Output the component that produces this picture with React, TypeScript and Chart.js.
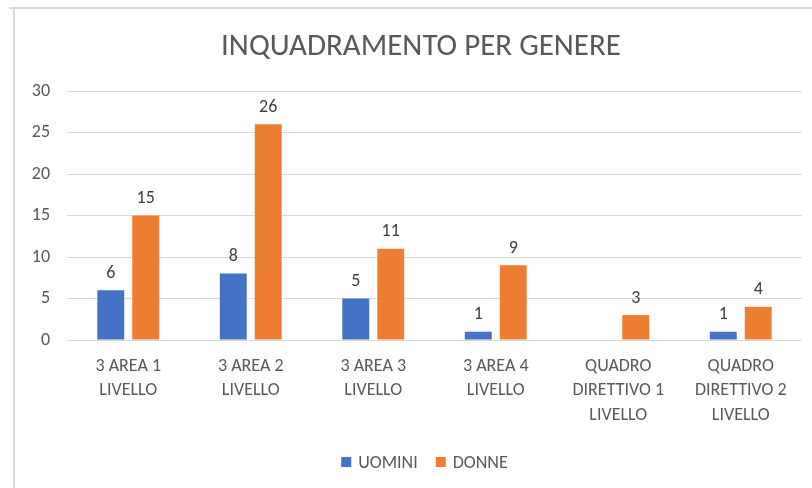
import React, { useEffect, useRef } from "react";
import { Chart, registerables } from "chart.js";

Chart.register(...registerables);

const TITLE = "INQUADRAMENTO PER GENERE";
const CATEGORIES: string[][] = [
  ["3 AREA 1", "LIVELLO"],
  ["3 AREA 2", "LIVELLO"],
  ["3 AREA 3", "LIVELLO"],
  ["3 AREA 4", "LIVELLO"],
  ["QUADRO", "DIRETTIVO 1", "LIVELLO"],
  ["QUADRO", "DIRETTIVO 2", "LIVELLO"],
];
const SERIES_NAMES = ["UOMINI", "DONNE"];
const UOMINI: (number | null)[] = [6, 8, 5, 1, null, 1];
const DONNE: (number | null)[] = [15, 26, 11, 9, 3, 4];
const COLORS = ["#4472C4", "#ED7D31"];
const Y_MIN = 0;
const Y_MAX = 30;
const Y_STEP = 5;

const FONT = "Carlito, Calibri, Lato, sans-serif";

const decorPlugin = {
  id: "decor",
  beforeDraw(chart: any) {
    const ctx = chart.ctx;
    ctx.save();
    ctx.fillStyle = "#ffffff";
    ctx.fillRect(0, 0, chart.width, chart.height);
    ctx.strokeStyle = "#d9d9d9";
    ctx.lineWidth = 2;
    ctx.beginPath();
    ctx.moveTo(9, 8);
    ctx.lineTo(chart.width, 8);
    ctx.moveTo(14, 7);
    ctx.lineTo(14, chart.height);
    ctx.stroke();
    ctx.restore();
  },
  afterDraw(chart: any) {
    const ctx = chart.ctx;
    ctx.save();
    // title
    ctx.fillStyle = "#595959";
    ctx.font = `31px ${FONT}`;
    ctx.textAlign = "center";
    ctx.textBaseline = "middle";
    ctx.fillText(TITLE, 421, 47);
    // data labels
    ctx.font = `18px ${FONT}`;
    ctx.fillStyle = "#404040";
    ctx.textBaseline = "bottom";
    chart.data.datasets.forEach((ds: any, i: number) => {
      const meta = chart.getDatasetMeta(i);
      meta.data.forEach((bar: any, j: number) => {
        const v = ds.data[j];
        if (v === null || v === undefined) return;
        ctx.fillText(String(v), bar.x, bar.y - 8);
      });
    });
    // legend
    ctx.font = `18px ${FONT}`;
    ctx.textAlign = "left";
    ctx.textBaseline = "middle";
    const gap = 18;
    const box = 10;
    const widths = SERIES_NAMES.map((n) => box + 7 + ctx.measureText(n).width);
    const total = widths.reduce((a, b) => a + b, 0) + gap * (SERIES_NAMES.length - 1);
    let x = 424.5 - total / 2;
    const y = 462;
    SERIES_NAMES.forEach((n, i) => {
      ctx.fillStyle = COLORS[i];
      ctx.fillRect(x, y - box / 2, box, box);
      ctx.fillStyle = "#595959";
      ctx.fillText(n, x + box + 7, y + 1);
      x += widths[i] + gap;
    });
    ctx.restore();
  },
};

export default function App() {
  const ref = useRef<HTMLCanvasElement>(null);
  useEffect(() => {
    if (!ref.current) return;
    const chart = new Chart(ref.current, {
      type: "bar",
      data: {
        labels: CATEGORIES,
        datasets: [
          {
            label: SERIES_NAMES[0],
            data: UOMINI,
            backgroundColor: COLORS[0],
            categoryPercentage: 0.571,
            barPercentage: 0.77,
          },
          {
            label: SERIES_NAMES[1],
            data: DONNE,
            backgroundColor: COLORS[1],
            categoryPercentage: 0.571,
            barPercentage: 0.77,
          },
        ],
      },
      options: {
        responsive: false,
        animation: false,
        layout: { padding: { top: 91, bottom: 48, left: 0, right: 10 } },
        plugins: {
          legend: { display: false },
          title: { display: false },
          tooltip: { enabled: false },
        },
        scales: {
          x: {
            grid: { display: false, drawTicks: false },
            border: { display: false },
            ticks: {
              color: "#595959",
              font: { family: FONT, size: 18, lineHeight: 1.36 },
              padding: 14,
              maxRotation: 0,
              autoSkip: false,
            },
            afterFit(scale: any) {
              scale.height = 100;
            },
          },
          y: {
            min: Y_MIN,
            max: Y_MAX,
            ticks: {
              stepSize: Y_STEP,
              color: "#595959",
              font: { family: FONT, size: 18 },
              padding: 17,
            },
            grid: { color: "#d9d9d9", lineWidth: 1, drawTicks: false },
            border: { display: false },
            afterFit(scale: any) {
              scale.width = 67;
            },
          },
        },
      },
      plugins: [decorPlugin],
    });
    return () => chart.destroy();
  }, []);
  return (
    <div style={{ position: "absolute", left: 0, top: 0, width: 812, height: 488 }}>
      <canvas ref={ref} width={812} height={488} />
    </div>
  );
}
